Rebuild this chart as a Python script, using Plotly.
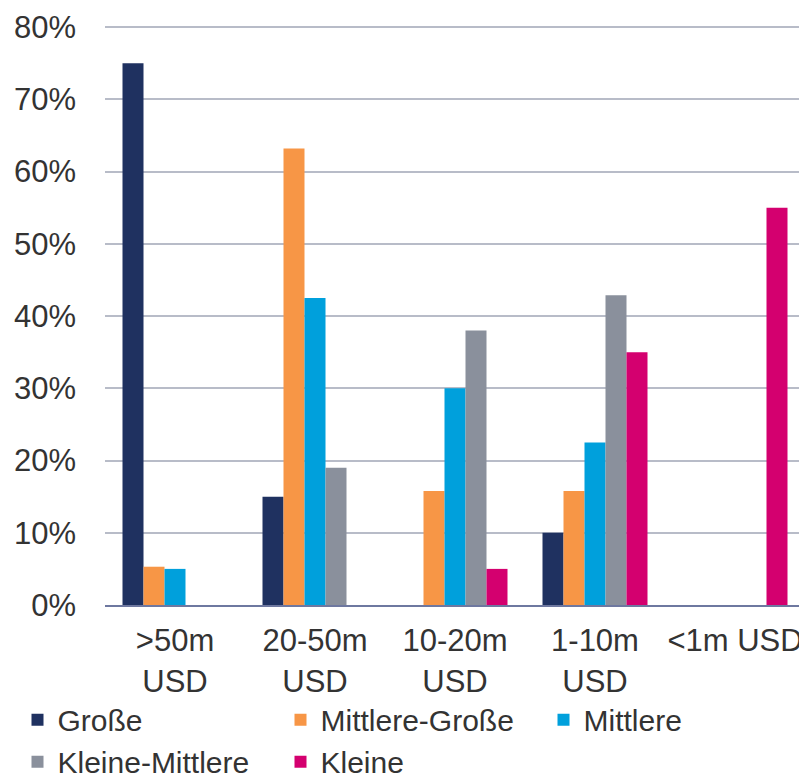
import plotly.graph_objects as go

categories = [">50m<br>USD", "20-50m<br>USD", "10-20m<br>USD", "1-10m<br>USD", "<1m USD"]
series_names = ["Große", "Mittlere-Große", "Mittlere", "Kleine-Mittlere", "Kleine"]
grosse = [75.0, 15.0, 0.0, 10.0, 0.0]
mittlere_grosse = [5.3, 63.2, 15.8, 15.8, 0.0]
mittlere = [5.0, 42.5, 30.0, 22.5, 0.0]
kleine_mittlere = [0.0, 19.0, 38.0, 42.9, 0.0]
kleine = [0.0, 0.0, 5.0, 35.0, 55.0]
y_ticks = [0, 10, 20, 30, 40, 50, 60, 70, 80]
y_tick_labels = ["0%", "10%", "20%", "30%", "40%", "50%", "60%", "70%", "80%"]

colors = ["#1F3160", "#F79646", "#00A0DC", "#8A909C", "#D4006F"]
values = [grosse, mittlere_grosse, mittlere, kleine_mittlere, kleine]

fig = go.Figure()
for name, vals, col in zip(series_names, values, colors):
    fig.add_trace(go.Bar(x=categories, y=vals, name=name, marker=dict(color=col, line=dict(width=0))))

font_family = "Liberation Sans, Arial, sans-serif"
FS = 31
fig.update_layout(
    width=799, height=772,
    margin=dict(l=97, r=2, t=17, b=175, autoexpand=False),
    paper_bgcolor="white", plot_bgcolor="white",
    barmode="group", bargap=0.25, bargroupgap=0,
    font=dict(family=font_family, size=FS, color="#333333"),
    xaxis=dict(showgrid=False, showline=True, linecolor="#6E78A0", linewidth=2,
               ticks="", automargin=False, ticklabelstandoff=7,
               tickfont=dict(size=FS, color="#333333")),
    yaxis=dict(range=[0, 80.3], tickvals=y_ticks, ticktext=y_tick_labels,
               showgrid=True, gridcolor="#B8BCC8", gridwidth=1.5, zeroline=False,
               showline=False, ticks="", ticklabelstandoff=28, automargin=False,
               tickfont=dict(size=FS, color="#333333")),
    legend=dict(orientation="h", x=-0.125, xanchor="left", y=-0.153, yanchor="top",
                entrywidth=218, entrywidthmode="pixels",
                tracegroupgap=0, font=dict(size=30, color="#333333")),
    showlegend=True,
)

fig.write_html("out.html")
